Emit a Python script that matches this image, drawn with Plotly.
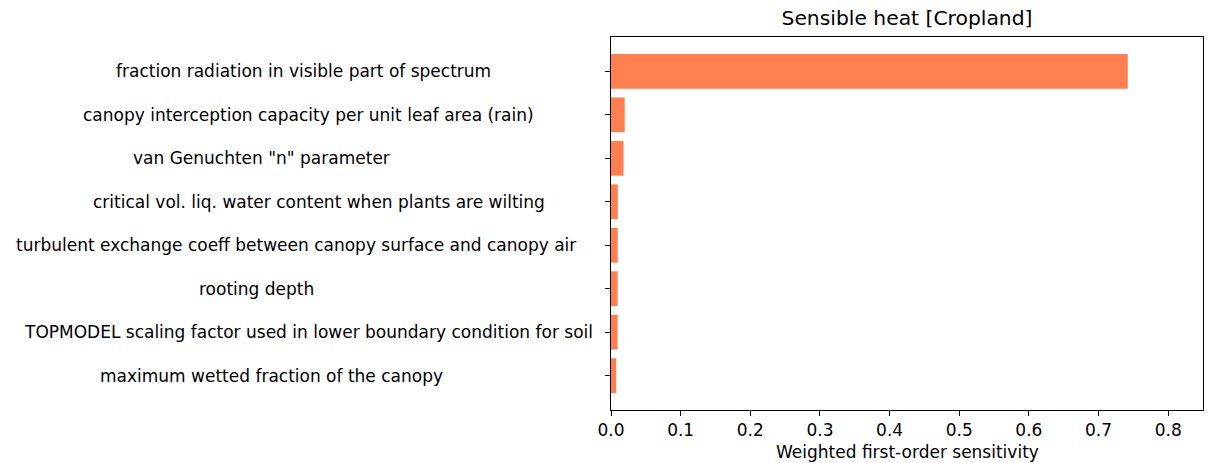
import plotly.graph_objects as go

params = [
    "fraction radiation in visible part of spectrum",
    "canopy interception capacity per unit leaf area (rain)",
    'van Genuchten "n" parameter',
    "critical vol. liq. water content when plants are wilting",
    "turbulent exchange coeff between canopy surface and canopy air",
    "rooting depth",
    "TOPMODEL scaling factor used in lower boundary condition for soil",
    "maximum wetted fraction of the canopy",
]
sensitivity = [0.742, 0.0197, 0.018, 0.0098, 0.0097, 0.0096, 0.0095, 0.0074]

title_text = "Sensible heat [Cropland]"
x_title = "Weighted first-order sensitivity"
x_ticks = [0.0, 0.1, 0.2, 0.3, 0.4, 0.5, 0.6, 0.7, 0.8]

# label horizontal centres (pixels) to match the reference layout
label_centres_px = [303, 308, 261, 319, 296, 257, 308, 271]

W, H = 1216, 463
L, R, T, B = 611, 13, 37, 53
FONT = "DejaVu Sans"
FS = 17
TFS = 20.3
PW, PH = W - L - R, H - T - B

fig = go.Figure(go.Bar(
    x=sensitivity, y=list(range(len(params))), orientation="h",
    marker=dict(color="coral", line=dict(width=0)),
    width=0.8,
))

annotations = []
for i, (p, cx) in enumerate(zip(params, label_centres_px)):
    annotations.append(dict(
        text=p, x=(cx - L) / PW, xref="paper", y=i, yref="y",
        xanchor="center", yanchor="middle", showarrow=False,
        font=dict(family=FONT, size=FS, color="#000"),
    ))
annotations.append(dict(
    text=x_title, x=0.5, xref="paper", y=-(452 - (T + PH)) / PH, yref="paper",
    xanchor="center", yanchor="middle", showarrow=False,
    font=dict(family=FONT, size=FS, color="#000"),
))

fig.update_layout(
    width=W, height=H,
    margin=dict(l=L, r=R, t=T, b=B, autoexpand=False),
    paper_bgcolor="white", plot_bgcolor="white",
    showlegend=False,
    font=dict(family=FONT, size=FS, color="#000"),
    title=dict(text=title_text, x=(L + PW / 2) / W, xanchor="center",
               y=1 - 18 / H, yanchor="middle",
               font=dict(family=FONT, size=TFS, color="#000")),
    annotations=annotations,
    xaxis=dict(range=[0, 0.85], tickvals=x_ticks,
               ticktext=[f"{v:.1f}" for v in x_ticks],
               automargin=False,
               showgrid=False, zeroline=False,
               showline=True, linecolor="black", linewidth=1.1, mirror=True,
               ticks="outside", ticklen=5, tickwidth=1.1, tickcolor="black",
               tickfont=dict(family=FONT, size=FS, color="#000")),
    yaxis=dict(range=[7.79, -0.79], tickvals=list(range(len(params))),
               automargin=False,
               showticklabels=False, showgrid=False, zeroline=False,
               showline=True, linecolor="black", linewidth=1.1, mirror=True,
               ticks="outside", ticklen=5, tickwidth=1.1, tickcolor="black"),
)

fig.write_html("out.html")
